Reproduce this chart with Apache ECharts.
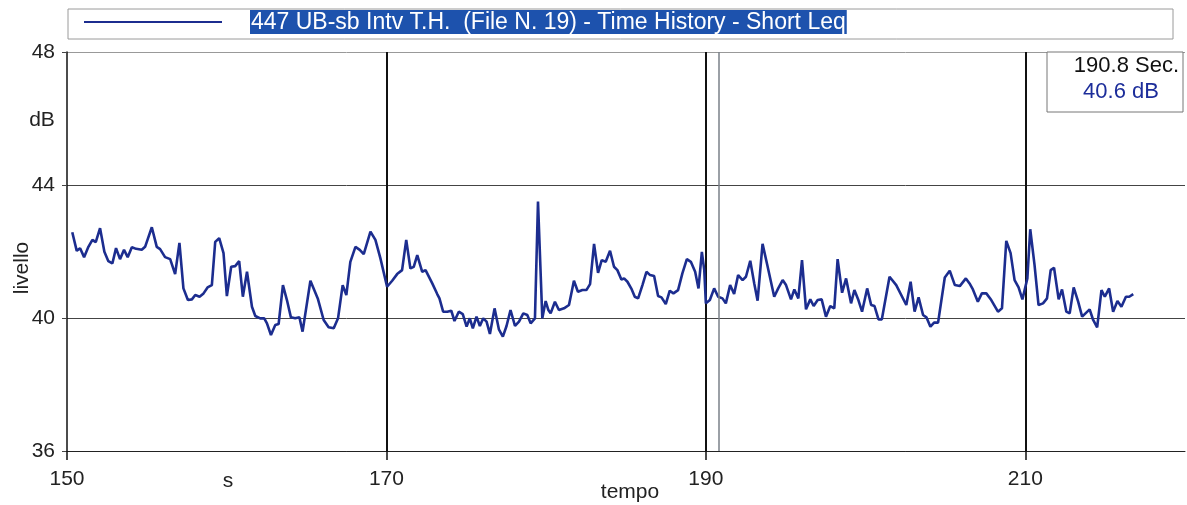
<!DOCTYPE html>
<html>
<head>
<meta charset="utf-8">
<title>Time History - Short Leq</title>
<script src="https://cdn.jsdelivr.net/npm/echarts@6/dist/echarts.min.js"></script>
<style>
  html, body { margin: 0; padding: 0; background: #fff; }
  #chart { width: 1187px; height: 505px; }
</style>
</head>
<body>
<div id="chart"></div>
<script>
// time history samples (seconds, dB)
const times = [
  150.33, 150.61, 150.82, 151.07, 151.34, 151.59, 151.80, 152.07, 152.34, 152.59,
  152.84, 153.07, 153.32, 153.57, 153.80, 154.06, 154.33, 154.68, 154.89, 155.31,
  155.62, 155.83, 156.14, 156.46, 156.77, 157.04, 157.29, 157.57, 157.82, 158.03,
  158.30, 158.55, 158.80, 159.07, 159.28, 159.53, 159.80, 160.01, 160.28, 160.53,
  160.78, 161.01, 161.27, 161.58, 161.79, 162.10, 162.35, 162.52, 162.77, 163.04,
  163.25, 163.52, 163.77, 164.02, 164.29, 164.55, 164.75, 165.24, 165.70, 166.07,
  166.38, 166.70, 166.97, 167.26, 167.49, 167.74, 168.06, 168.33, 168.58, 169.00,
  169.31, 169.62, 170.04, 170.36, 170.67, 170.98, 171.24, 171.50, 171.71, 171.93,
  172.24, 172.45, 172.87, 173.18, 173.32, 173.55, 173.81, 174.06, 174.26, 174.53,
  174.78, 175.02, 175.22, 175.41, 175.64, 175.85, 176.06, 176.27, 176.48, 176.77,
  177.04, 177.29, 177.52, 177.77, 178.05, 178.30, 178.57, 178.82, 179.03, 179.30,
  179.49, 179.76, 179.97, 180.14, 180.28, 180.55, 180.80, 181.12, 181.43, 181.74,
  181.99, 182.27, 182.52, 182.75, 183.00, 183.25, 183.48, 183.73, 184.00, 184.25,
  184.46, 184.71, 184.88, 185.09, 185.36, 185.55, 185.76, 186.03, 186.28, 186.51,
  186.76, 187.01, 187.22, 187.49, 187.74, 187.97, 188.26, 188.53, 188.81, 189.06,
  189.33, 189.54, 189.75, 189.90, 190.00, 190.25, 190.52, 190.77, 191.04, 191.25,
  191.52, 191.77, 192.02, 192.30, 192.51, 192.78, 193.03, 193.24, 193.55, 193.87,
  194.28, 194.53, 194.81, 195.02, 195.33, 195.54, 195.79, 196.02, 196.27, 196.54,
  196.75, 197.00, 197.25, 197.52, 197.79, 198.04, 198.25, 198.53, 198.78, 199.09,
  199.30, 199.55, 199.78, 200.10, 200.35, 200.56, 200.81, 201.02, 201.50, 201.92,
  202.55, 202.82, 203.07, 203.32, 203.60, 203.81, 204.06, 204.29, 204.54, 204.96,
  205.27, 205.59, 205.90, 206.28, 206.51, 206.72, 207.03, 207.28, 207.56, 207.87,
  208.29, 208.54, 208.81, 209.08, 209.33, 209.58, 209.82, 210.13, 210.31, 210.58,
  210.83, 211.11, 211.36, 211.59, 211.80, 212.09, 212.30, 212.57, 212.78, 213.03,
  213.31, 213.56, 213.77, 214.03, 214.25, 214.50, 214.77, 214.98, 215.25, 215.50,
  215.77, 216.02, 216.30, 216.51, 216.76
];
const levels = [
  42.58, 42.02, 42.10, 41.83, 42.14, 42.35, 42.28, 42.70, 41.99, 41.71,
  41.64, 42.10, 41.77, 42.05, 41.83, 42.13, 42.08, 42.05, 42.14, 42.73,
  42.14, 42.07, 41.83, 41.77, 41.32, 42.26, 40.89, 40.54, 40.56, 40.69,
  40.64, 40.74, 40.92, 40.99, 42.29, 42.40, 41.95, 40.66, 41.54, 41.56,
  41.71, 40.64, 41.39, 40.34, 40.06, 39.99, 39.99, 39.84, 39.49, 39.79,
  39.82, 40.99, 40.54, 40.02, 39.99, 40.02, 39.59, 41.12, 40.59, 39.94,
  39.72, 39.69, 39.99, 40.99, 40.69, 41.69, 42.14, 42.05, 41.92, 42.60,
  42.35, 41.80, 40.94, 41.12, 41.32, 41.44, 42.35, 41.49, 41.54, 41.89,
  41.39, 41.44, 41.04, 40.72, 40.59, 40.19, 40.19, 40.22, 39.91, 40.19,
  40.12, 39.74, 39.99, 39.69, 40.04, 39.76, 39.99, 39.89, 39.52, 40.29,
  39.66, 39.44, 39.76, 40.24, 39.76, 39.89, 40.14, 40.09, 39.84, 39.99,
  43.50, 39.99, 40.51, 40.24, 40.14, 40.49, 40.24, 40.29, 40.39, 41.12,
  40.79, 40.84, 40.84, 41.02, 42.23, 41.36, 41.74, 41.69, 42.02, 41.54,
  41.44, 41.16, 41.19, 41.09, 40.86, 40.64, 40.59, 40.99, 41.39, 41.29,
  41.26, 40.66, 40.62, 40.42, 40.82, 40.74, 40.84, 41.34, 41.77, 41.69,
  41.39, 40.89, 41.99, 41.44, 40.44, 40.54, 40.89, 40.64, 40.59, 40.44,
  40.99, 40.72, 41.29, 41.14, 41.24, 41.72, 41.04, 40.52, 42.23, 41.54,
  40.64, 40.89, 41.14, 40.99, 40.56, 40.86, 40.59, 41.74, 40.26, 40.56,
  40.36, 40.54, 40.56, 40.04, 40.36, 40.29, 41.77, 40.76, 41.19, 40.44,
  40.84, 40.54, 40.19, 40.89, 40.39, 40.36, 39.96, 39.96, 41.24, 40.99,
  40.39, 41.09, 40.19, 40.62, 40.09, 40.02, 39.74, 39.86, 39.86, 41.22,
  41.42, 40.99, 40.96, 41.19, 41.04, 40.86, 40.49, 40.74, 40.74, 40.54,
  40.19, 40.29, 42.32, 41.95, 41.14, 40.92, 40.56, 41.19, 42.67, 41.59,
  40.39, 40.44, 40.59, 41.44, 41.51, 40.56, 40.86, 40.19, 40.14, 40.92,
  40.49, 40.04, 40.14, 40.26, 39.94, 39.72, 40.84, 40.64, 40.89, 40.19,
  40.51, 40.34, 40.64, 40.64, 40.72
];
const seriesName = "447 UB-sb Intv T.H.  (File N. 19) - Time History - Short Leq";
const cursorTime = 190.8;
const cursorLevel = 40.6;

const font = "'Liberation Sans', Arial, sans-serif";
const lineColor = "#1c2d8f";

function label(text, x, y, extra) {
  return Object.assign({
    type: "text",
    x: x,
    y: y,
    style: {
      text: text,
      fill: "#222",
      font: "21px " + font,
      textAlign: "center",
      textVerticalAlign: "middle",
    },
  }, extra);
}

const chart = echarts.init(document.getElementById("chart"));
chart.setOption({
  animation: false,
  backgroundColor: "#fff",
  grid: {
    left: 67, right: 2, top: 52, bottom: 54,
    containLabel: false,
    outerBoundsMode: "none",
  },
  legend: {
    left: 84,
    top: 10,
    padding: 0,
    icon: "rect",
    itemWidth: 138,
    itemHeight: 2,
    selectedMode: false,
    formatter: "{gap|}{h|{name}}",
    textStyle: {
      rich: {
        gap: { width: 23 },
        h: {
          color: "#fff",
          backgroundColor: "#1d52ad",
          fontFamily: font,
          fontSize: 23,
          padding: [1, 1, 0, 1],
        },
      },
    },
  },
  xAxis: {
    type: "value",
    min: 150,
    max: 220,
    interval: 20,
    axisLine: { lineStyle: { color: "#222", width: 1 } },
    axisTick: { length: 9, lineStyle: { color: "#111", width: 1.5 } },
    axisLabel: {
      color: "#222",
      fontFamily: font,
      fontSize: 21,
      margin: 18,
      showMaxLabel: false,
    },
    splitLine: {
      show: true,
      showMinLine: false,
      showMaxLine: false,
      lineStyle: { color: "#111", width: 2 },
    },
  },
  yAxis: {
    type: "value",
    min: 36,
    max: 48,
    interval: 4,
    axisLine: { show: true, lineStyle: { color: "#111", width: 1.5 } },
    axisTick: { show: true, length: 5, lineStyle: { color: "#444" } },
    axisLabel: { color: "#222", fontFamily: font, fontSize: 21, margin: 12 },
    splitLine: {
      show: true,
      lineStyle: { color: ["#333", "#444", "#444", "#999"], width: 1 },
    },
  },
  series: [
    {
      name: seriesName,
      type: "line",
      showSymbol: false,
      symbol: "none",
      data: times.map((t, i) => [t, levels[i]]),
      lineStyle: { color: lineColor, width: 2.6 },
      itemStyle: { color: lineColor },
      markLine: {
        silent: true,
        symbol: "none",
        label: { show: false },
        lineStyle: { color: "#7a8088", width: 1.5, type: "solid" },
        data: [{ xAxis: cursorTime }],
      },
      z: 3,
    },
  ],
  graphic: [
    {
      type: "rect",
      shape: { x: 68, y: 9, width: 1105, height: 30 },
      style: { fill: "none", stroke: "#9a9a9a", lineWidth: 1 },
      z: -1,
    },
    {
      type: "rect",
      shape: { x: 1047, y: 52, width: 136, height: 60 },
      style: { fill: "#fff", stroke: "#777", lineWidth: 1 },
      z: 10,
    },
    {
      type: "text",
      x: 1179,
      y: 66,
      style: {
        text: cursorTime.toFixed(1) + " Sec.",
        fill: "#111",
        font: "22px " + font,
        textAlign: "right",
        textVerticalAlign: "middle",
      },
      z: 11,
    },
    {
      type: "text",
      x: 1121,
      y: 92,
      style: {
        text: cursorLevel.toFixed(1) + " dB",
        fill: "#1c2d9a",
        font: "22px " + font,
        textAlign: "center",
        textVerticalAlign: "middle",
      },
      z: 11,
    },
    label("dB", 42, 120),
    label("s", 228, 481),
    label("tempo", 630, 492),
    label("livello", 22, 268, { rotation: Math.PI / 2 }),
  ],
});
</script>
</body>
</html>
